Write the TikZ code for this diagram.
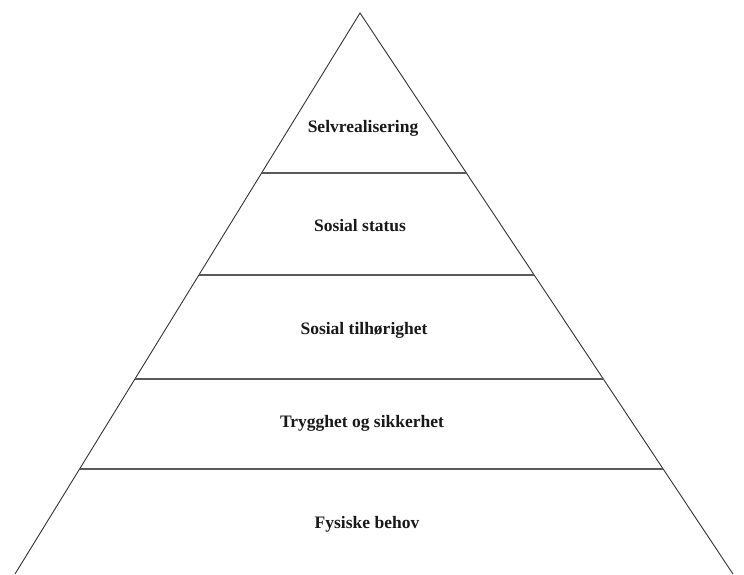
\documentclass[tikz,border=0pt]{standalone}
\usepackage{fontspec}
\setmainfont{Liberation Serif}
\usetikzlibrary{calc}
\begin{document}
\begin{tikzpicture}[x=1pt,y=-1pt,
  edge/.style={draw=black!80,line width=0.9pt},
  level/.style={draw=black!65,line width=1.1pt},
  label/.style={font=\bfseries\fontsize{17.5}{20}\selectfont,text=black!90,inner sep=0pt}]
  \useasboundingbox (0,0) rectangle (744,574);
  % pyramid outline
  \coordinate (A) at (360,13);
  \coordinate (L) at (15,574);
  \coordinate (R) at (733,574);
  \draw[edge] (L) -- (A) -- (R);
  % level dividers
  \foreach \t/\n in {0.2852/1,0.4670/2,0.6524/3,0.8128/4}{
    \draw[level] ($(A)!\t!(L)$) -- ($(A)!\t!(R)$);
  }
  % level labels
  \node[label] (l5) at (363,128) {Selvrealisering};
  \node[label] (l4) at (360,226) {Sosial status};
  \node[label] (l3) at (364,330) {Sosial tilhørighet};
  \node[label] (l2) at (362,423) {Trygghet og sikkerhet};
  \node[label] (l1) at (367,524) {Fysiske behov};
\end{tikzpicture}
\end{document}
